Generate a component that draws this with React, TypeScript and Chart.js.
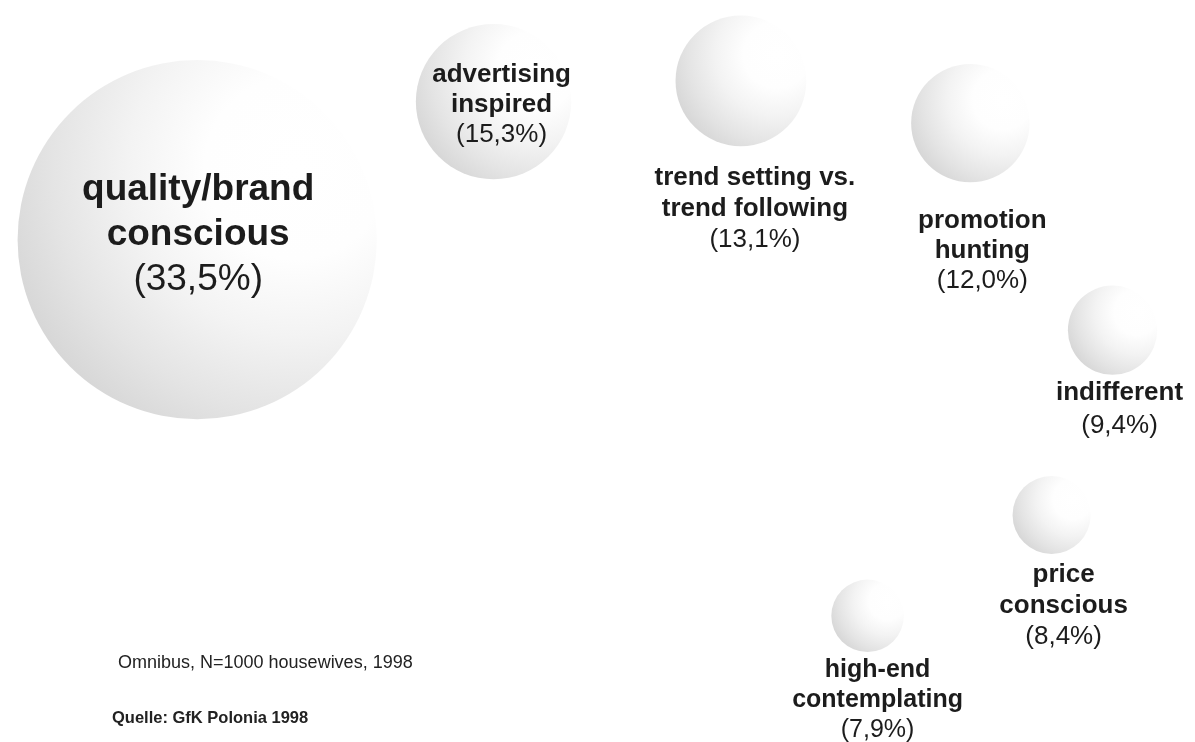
import React, { useEffect, useRef } from "react";
import { Chart, registerables } from "chart.js";

Chart.register(...registerables);

// ---- data ----
const segmentNames: string[][] = [
  ["quality/brand", "conscious"],
  ["advertising", "inspired"],
  ["trend setting vs.", "trend following"],
  ["promotion", "hunting"],
  ["indifferent"],
  ["price", "conscious"],
  ["high-end", "contemplating"],
];
const shares: number[] = [33.5, 15.3, 13.1, 12.0, 9.4, 8.4, 7.9];
// bubble placement on a 0..100 layout grid
const posX: number[] = [16.5, 41.3, 62.0, 81.2, 93.1, 88.0, 72.6];
const posY: number[] = [67.7, 86.3, 89.1, 83.4, 55.5, 30.6, 17.0];

const noteText = "Omnibus, N=1000 housewives, 1998";
const sourceText = "Quelle: GfK Polonia 1998";

// ---- layout / style (not data) ----
const labelDx: number[] = [1, 8, 14, 12, 7, 12, 10];
const labelDy: number[] = [-40, -20, 104, 105, 70, 67, 61];
const labelLine: number[] = [45, 30, 31, 30, 33, 31, 30];
const labelSize: number[] = [37, 26, 26, 26, 26, 26, 25];
const FONT = '"Liberation Sans", Arial, Helvetica, sans-serif';
const TEXT = "#1c1c1c";

const radiusFor = (v: number) => 5.6 * v - 8;

const fmt = (v: number) => "(" + v.toFixed(1).replace(".", ",") + "%)";

const labelsPlugin = {
  id: "sphereLabels",
  afterDatasetsDraw(chart: any) {
    const ctx = chart.ctx as CanvasRenderingContext2D;
    const meta = chart.getDatasetMeta(0);
    ctx.save();
    ctx.fillStyle = TEXT;
    ctx.textAlign = "center";
    ctx.textBaseline = "alphabetic";
    meta.data.forEach((el: any, i: number) => {
      const cx = el.x + labelDx[i];
      let y = el.y + labelDy[i];
      const size = labelSize[i];
      segmentNames[i].forEach((line) => {
        ctx.font = `bold ${size}px ${FONT}`;
        ctx.fillText(line, cx, y);
        y += labelLine[i];
      });
      ctx.font = `${size}px ${FONT}`;
      ctx.fillText(fmt(shares[i]), cx, y);
    });
    ctx.textAlign = "left";
    ctx.fillStyle = "#222";
    ctx.font = `18px ${FONT}`;
    ctx.fillText(noteText, 118, 668);
    ctx.font = `bold 16.5px ${FONT}`;
    ctx.fillText(sourceText, 112, 723);
    ctx.restore();
  },
};

export default function App() {
  const ref = useRef<HTMLCanvasElement | null>(null);

  useEffect(() => {
    if (!ref.current) return;
    const data = shares.map((v, i) => ({ x: posX[i], y: posY[i], r: radiusFor(v) }));
    const chart = new Chart(ref.current, {
      type: "bubble",
      data: {
        datasets: [
          {
            data,
            clip: false as any,
            borderWidth: 0,
            backgroundColor: (c: any) => {
              if (c.type !== "data" || !c.raw) return "#e5e5e5";
              const ch = c.chart;
              const sx = ch.scales && ch.scales.x;
              const sy = ch.scales && ch.scales.y;
              if (!sx || !sy) return "#e5e5e5";
              const raw = c.raw;
              const px = sx.getPixelForValue(raw.x);
              const py = sy.getPixelForValue(raw.y);
              const r = raw.r;
              if (![px, py, r].every((v) => Number.isFinite(v))) return "#e5e5e5";
              const hx = px + 0.55 * r;
              const hy = py - 0.4 * r;
              const g = ch.ctx.createRadialGradient(hx, hy, 0, hx, hy, 1.7 * r);
              g.addColorStop(0, "#ffffff");
              g.addColorStop(0.3, "#fefefe");
              g.addColorStop(0.55, "#f3f3f3");
              g.addColorStop(0.8, "#e4e4e4");
              g.addColorStop(1, "#d6d6d6");
              return g;
            },
          },
        ],
      },
      options: {
        animation: false,
        responsive: false,
        events: [],
        layout: { padding: 0, autoPadding: false },
        plugins: { legend: { display: false }, tooltip: { enabled: false } },
        scales: {
          x: { type: "linear", min: 0, max: 100, display: false },
          y: { type: "linear", min: 0, max: 100, display: false },
        },
      },
      plugins: [labelsPlugin],
    });
    return () => chart.destroy();
  }, []);

  return (
    <div style={{ position: "absolute", left: 0, top: 0, width: 1195, height: 742, background: "#fff" }}>
      <canvas ref={ref} width={1195} height={742} style={{ display: "block" }} />
    </div>
  );
}
